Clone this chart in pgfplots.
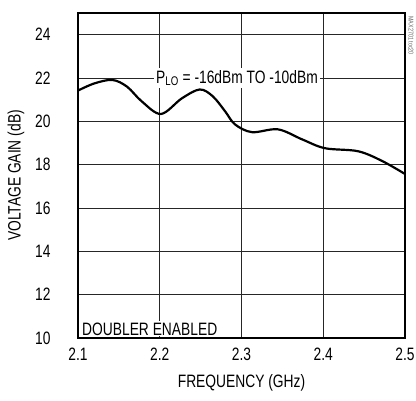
\documentclass[border=0pt]{standalone}
\usepackage{pgfplots}
\pgfplotsset{compat=1.18}
\usepackage{fontspec}
\setmainfont{Liberation Sans}[FakeStretch=0.77]
\begin{document}
\begin{tikzpicture}
\begin{axis}[
  scale only axis,
  width=327bp, height=325bp,
  xmin=2.1, xmax=2.5, ymin=10, ymax=25,
  xtick={2.1,2.2,2.3,2.4,2.5},
  ytick={10,12,14,16,18,20,22,24},
  xticklabels={2.1,2.2,2.3,2.4,2.5},
  yticklabels={10,12,14,16,18,20,22,24},
  major tick length=0pt,
  grid=major,
  major grid style={black!85, line width=0.7pt},
  axis line style={line width=1.8pt},
  tick label style={font=\fontsize{18}{18}\selectfont},
  label style={font=\fontsize{18}{18}\selectfont},
  xticklabel style={yshift=-6bp},
  yticklabel style={xshift=-24bp},
  xlabel={FREQUENCY (GHz)},
  ylabel={VOLTAGE GAIN (dB)},
  xlabel style={yshift=-7bp},
  ylabel style={yshift=4bp},
  clip=false,
]
\addplot[black, line width=2.2pt, smooth, tension=0.55] coordinates {
(2.100,21.42) (2.120,21.75) (2.142,21.91) (2.160,21.60) (2.178,20.92)
(2.2015,20.34) (2.227,21.06) (2.249,21.47) (2.265,21.15) (2.280,20.46)
(2.292,19.86) (2.3128,19.50) (2.3446,19.63) (2.374,19.17) (2.402,18.76)
(2.4425,18.62) (2.472,18.17) (2.500,17.57)
};
\node[fill=white, inner sep=2bp, font=\fontsize{18}{18}\selectfont] at (axis cs:2.2945,22) {P\textsubscript{LO} = -16dBm TO -10dBm};
\node[fill=white, anchor=south west, inner xsep=3bp, inner ysep=1bp, xshift=1bp, yshift=1.5bp, font=\fontsize{18}{18}\selectfont] at (axis cs:2.1,10) {\rule{0pt}{13bp}DOUBLER ENABLED};
\node[rotate=-90, anchor=south west, font=\fontsize{7}{7}\selectfont, text=black!60] at (axis cs:2.5,25) {MAX2701 toc20};
\end{axis}
\pgfresetboundingbox
\path (-78bp,-63bp) rectangle (338bp,338bp);
\end{tikzpicture}
\end{document}
